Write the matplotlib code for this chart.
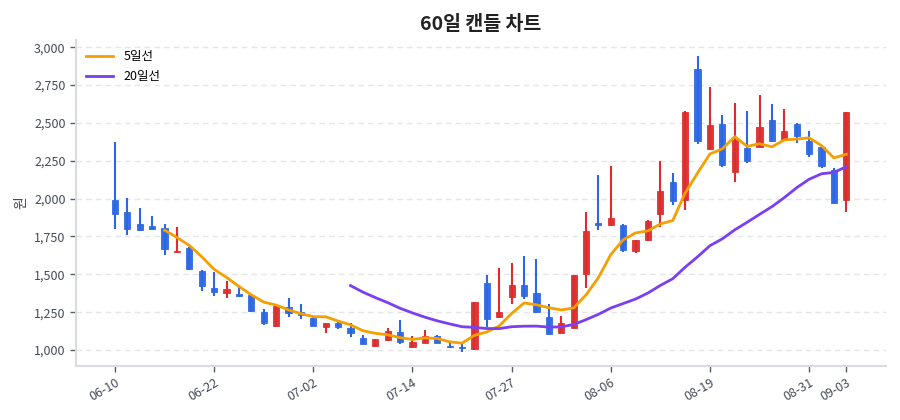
import matplotlib
matplotlib.use("Agg")
import matplotlib.pyplot as plt
import numpy as np
import pandas as pd

plt.rcParams['font.family'] = ['Noto Sans CJK KR', 'DejaVu Sans']

opens = [1990, 1913, 1830, 1817, 1808, 1645, 1676, 1520, 1412, 1374,
         1372, 1363, 1251, 1157, 1287, 1251, 1214, 1155, 1177, 1144,
         1078, 1027, 1067, 1122, 1018, 1049, 1095, 1029, 1023, 1007,
         1442, 1216, 1349, 1428, 1380, 1221, 1115, 1148, 1501, 1839,
         1828, 1828, 1651, 1724, 1898, 2108, 1989, 2854, 2325, 2495,
         2177, 2336, 2342, 2519, 2387, 2490, 2380, 2342, 2192, 1994]
highs = [2375, 2001, 1940, 1887, 1830, 1810, 1680, 1528, 1515, 1456,
         1418, 1370, 1271, 1292, 1342, 1302, 1221, 1180, 1188, 1177,
         1100, 1075, 1144, 1199, 1093, 1133, 1100, 1045, 1040, 1318,
         1497, 1541, 1578, 1618, 1600, 1305, 1228, 1497, 1912, 2159,
         2214, 1832, 1726, 1861, 2247, 2170, 2576, 2943, 2735, 2550,
         2629, 2581, 2684, 2623, 2590, 2501, 2448, 2347, 2203, 2570]
lows = [1799, 1759, 1788, 1792, 1627, 1643, 1528, 1390, 1359, 1341,
        1348, 1253, 1168, 1155, 1221, 1203, 1157, 1111, 1139, 1089,
        1040, 1022, 1062, 1040, 1015, 1045, 1045, 1016, 990, 1003,
        1155, 1214, 1303, 1336, 1243, 1106, 1113, 1146, 1413, 1795,
        1817, 1645, 1640, 1722, 1810, 1960, 1928, 2360, 2323, 2210,
        2111, 2232, 2340, 2376, 2385, 2365, 2276, 2203, 1974, 1912]
closes = [1898, 1797, 1795, 1801, 1669, 1655, 1533, 1423, 1385, 1403,
          1355, 1258, 1181, 1289, 1243, 1232, 1157, 1177, 1150, 1115,
          1040, 1071, 1128, 1056, 1056, 1093, 1049, 1018, 1012, 1315,
          1203, 1250, 1428, 1360, 1254, 1106, 1177, 1495, 1788, 1823,
          1872, 1662, 1724, 1854, 2053, 1982, 2574, 2382, 2484, 2221,
          2387, 2250, 2470, 2382, 2448, 2415, 2292, 2214, 1974, 2570]

tick_positions = [0, 8, 16, 24, 32, 40, 48, 56, 59]
tick_labels = ['06-10', '06-22', '07-02', '07-14', '07-27', '08-06', '08-19', '08-31', '09-03']

UP = '#dc2c2c'
DOWN = '#2b66e3'
MA5_C = '#f59f00'
MA20_C = '#7b3ff2'

df = pd.DataFrame({'open': opens, 'high': highs, 'low': lows, 'close': closes})
x = np.arange(len(df))
ma5 = df['close'].rolling(5).mean()
ma20 = df['close'].rolling(20).mean()

fig = plt.figure(figsize=(9, 4.2), dpi=100)
ax = fig.add_axes([0.0844, 0.129, 0.9, 0.776])

colors = [UP if c >= o else DOWN for o, c in zip(df['open'], df['close'])]
ax.vlines(x, df['low'], df['high'], colors=colors, linewidth=1.5, zorder=2)
bottoms = np.minimum(df['open'], df['close'])
heights = np.maximum(np.abs(df['close'] - df['open']), 8)
ax.bar(x, heights, bottom=bottoms, width=0.5, color=colors, edgecolor=colors,
       linewidth=0.6, alpha=0.95, zorder=3)

ax.plot(x, ma5, color=MA5_C, linewidth=2, label='5일선', zorder=4)
ax.plot(x, ma20, color=MA20_C, linewidth=2, label='20일선', zorder=4)

ax.set_xlim(-3.15, 62.2)
ax.set_ylim(896, 3048)
ax.set_yticks([1000, 1250, 1500, 1750, 2000, 2250, 2500, 2750, 3000])
ax.yaxis.set_major_formatter(matplotlib.ticker.FuncFormatter(lambda v, p: f'{int(v):,}'))
ax.set_xticks(tick_positions)
ax.set_xticklabels(tick_labels, rotation=30, ha='right', rotation_mode='anchor')

ax.grid(axis='y', linestyle=(0, (4, 3)), color='#e3e5e8', linewidth=1)
ax.set_axisbelow(True)
for s in ['top', 'right']:
    ax.spines[s].set_visible(False)
for s in ['left', 'bottom']:
    ax.spines[s].set_color('#d8dce2')
    ax.spines[s].set_linewidth(1.5)
ax.tick_params(axis='both', colors='#555d6b', labelsize=9, length=4, width=1)
ax.tick_params(axis='both', labelcolor='#444b59')

ax.set_ylabel('원', fontsize=10, color='#444b59')
ax.set_title('60일 캔들 차트', fontsize=14, fontweight='bold', color='#222', pad=7)

leg = ax.legend(loc='upper left', frameon=False, fontsize=9, handlelength=2.2,
                borderaxespad=0.4, labelspacing=0.6)

fig.savefig('out.png', dpi=100)
